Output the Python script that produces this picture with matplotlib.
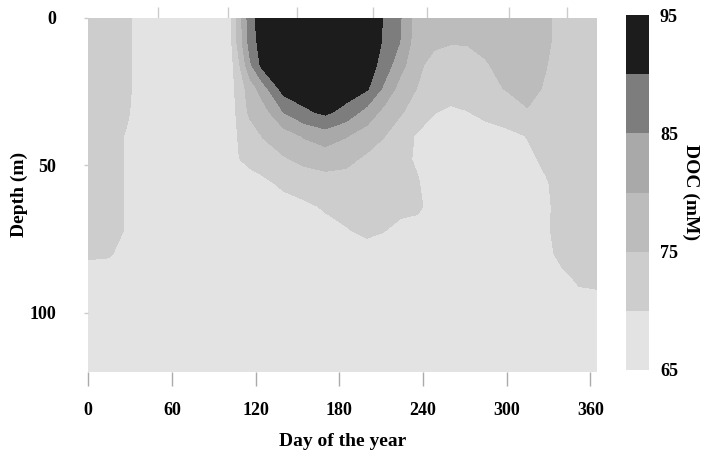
import numpy as np
import matplotlib
matplotlib.use("Agg")
import matplotlib.pyplot as plt

plt.rcParams['font.family'] = ['Liberation Serif', 'DejaVu Serif']

# grid of the DOC field
days = [0, 15, 28, 40, 70, 100, 108, 116, 125, 140, 155, 170, 185, 200,
        212, 224, 236, 248, 260, 272, 285, 300, 315, 328, 340, 352, 365]
depths = [0, 8, 16, 24, 32, 40, 48, 56, 64, 72, 80, 88, 96, 120]

doc = [
    [72, 72, 71, 67, 67, 66, 77, 88, 93, 93, 93, 93, 93, 93, 89.7, 85.2, 77.4, 77, 77, 77, 77, 77, 77, 76.5, 72, 72, 72],
    [72, 72, 71, 67, 67, 66, 77, 87, 92.5, 93, 93, 93, 93, 93, 89.5, 84.8, 77, 76.5, 75.3, 75.3, 76.5, 77, 77, 76.5, 72, 72, 72],
    [72, 72, 71, 67, 67, 66, 74, 84, 91.5, 93, 93, 93, 93, 92.5, 88, 81.5, 76.5, 72.5, 73, 73.5, 74.5, 77, 77, 75.3, 72, 72, 72],
    [72, 72, 71, 67, 67, 66, 72.5, 77, 82.5, 92, 93, 93, 93, 90.5, 84, 78, 74.8, 72.5, 72.5, 73, 74, 75.2, 77, 74.3, 72, 72, 72],
    [72, 72, 70.5, 67, 67, 66, 71.5, 76, 77.5, 85, 89, 91, 88, 83, 78.5, 75.5, 72.5, 70.2, 69, 69.8, 71.5, 73, 74.5, 73, 72, 72, 72],
    [72, 72, 69.5, 67, 67, 66, 70.5, 72.5, 75.2, 77.5, 80.5, 82.5, 80.3, 77.5, 75.2, 72, 69.5, 68, 67.5, 67.5, 67.5, 68.5, 70.2, 72, 72, 72, 72],
    [72, 72, 69.5, 67, 67, 66, 69.8, 71.5, 72.5, 74.5, 76, 77, 76.2, 74, 72.5, 71, 69.5, 67.5, 67.5, 67.5, 67.5, 67.5, 68.8, 71, 72, 72, 72],
    [72, 72, 69.5, 67, 67, 66, 66.5, 67.5, 68.8, 71, 72.5, 73, 73, 73, 72.5, 72, 70.3, 68, 67.5, 67.5, 67.5, 67.5, 67.5, 69.5, 72, 72, 72],
    [72, 72, 69.5, 67, 67, 66.5, 66.5, 66.5, 67, 68, 69, 70.5, 71.5, 72, 72, 71.5, 71, 68, 67.5, 67.5, 67.5, 67.5, 67.5, 69, 72, 72, 72],
    [72, 72, 69.5, 67, 67, 66.5, 66.5, 66.5, 66.5, 67, 68, 68.5, 69.7, 71, 70.2, 68.5, 68, 67.5, 67.5, 67.5, 67.5, 67.5, 67.5, 69.2, 72, 72, 72],
    [70.8, 70.5, 68, 67, 67, 66.5, 66.5, 66.5, 66.5, 66.5, 67, 67, 67.5, 68, 67.5, 67, 67, 67, 67, 67, 67, 67, 67, 68.5, 71.5, 72, 72],
    [67.6, 67.5, 67, 67, 67, 66.5, 66.5, 66.5, 66.5, 66.5, 66.5, 66.5, 66.5, 67, 67, 67, 67, 67, 67, 67, 67, 67, 67, 67.5, 69, 70.8, 71],
    [67, 67, 67, 67, 67, 66.5, 66.5, 66.5, 66.5, 66.5, 66.5, 66.5, 66.5, 67, 67, 67, 67, 67, 67, 67, 67, 67, 67, 67, 67, 68.7, 69],
    [66.5, 66.5, 66.5, 66.5, 66.5, 66.5, 66.5, 66.5, 66.5, 66.5, 66.5, 66.5, 66.5, 66.5, 66.5, 66.5, 66.5, 66.5, 66.5, 66.5, 66.5, 66.5, 66.5, 66.5, 66.5, 66.5, 66.5],
]

levels = [65, 70, 75, 80, 85, 90, 95]
shades = ['#e3e3e3', '#cdcdcd', '#bcbcbc', '#a9a9a9', '#7d7d7d', '#1c1c1c']

x_ticks = [0, 60, 120, 180, 240, 300, 360]
y_ticks = [0, 50, 100]
cbar_ticks = [65, 75, 85, 95]
sample_days = [50, 100, 150, 204, 243, 302, 343]

fig = plt.figure(figsize=(7.17, 4.59), dpi=100)
ax = fig.add_axes([0.123, 0.190, 0.710, 0.771])
cax = fig.add_axes([0.873, 0.194, 0.032, 0.773])

cs = ax.contourf(days, depths, np.array(doc), levels=levels, colors=shades)

ax.set_xlim(0, 365)
ax.set_ylim(120, 0)
for s in ax.spines.values():
    s.set_visible(False)

ax.set_xticks(x_ticks)
ax.set_yticks(y_ticks)
ax.tick_params(axis='x', length=10, width=1, color='#aaaaaa', pad=12,
               labelsize=13)
ax.tick_params(axis='y', length=3, width=1, color='#cccccc', pad=20,
               labelsize=13)
for lab in ax.get_xticklabels() + ax.get_yticklabels():
    lab.set_fontweight('bold')

# faint sampling marks along the top
top = ax.secondary_xaxis('top')
top.set_xticks(sample_days)
top.set_xticklabels([])
top.tick_params(length=8, width=1, color='#cccccc')
top.spines['top'].set_visible(False)

ax.set_xlabel('Day of the year', fontsize=14, fontweight='bold', labelpad=10)
ax.set_ylabel('Depth (m)', fontsize=14, fontweight='bold', labelpad=1)

cb = fig.colorbar(cs, cax=cax, ticks=cbar_ticks)
cb.outline.set_visible(False)
cax.tick_params(length=0, pad=8, labelsize=13)
for lab in cax.get_yticklabels():
    lab.set_fontweight('bold')
cb.set_label('DOC (mM)', rotation=270, fontsize=14, fontweight='bold',
             labelpad=15)

fig.savefig('out.png', dpi=100)
